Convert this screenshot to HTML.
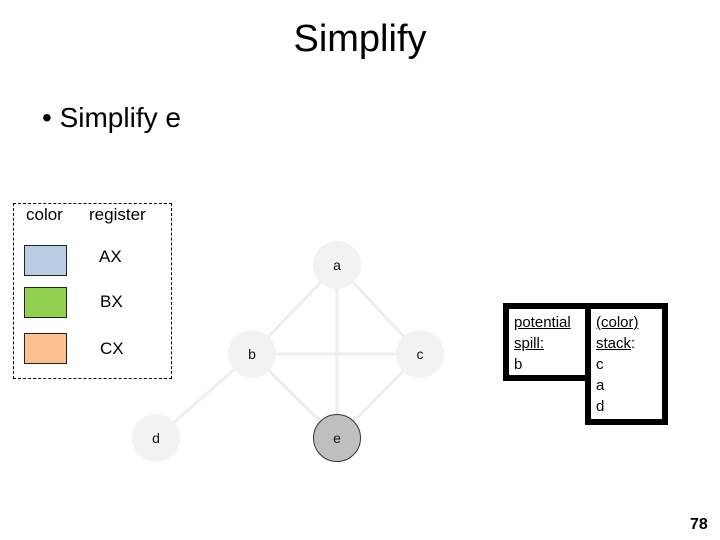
<!DOCTYPE html>
<html><head><style>
body{margin:0;width:720px;height:540px;background:#fff;position:relative;overflow:hidden;font-family:"Liberation Sans",sans-serif;}
.t{position:absolute;white-space:nowrap;}
.sw{position:absolute;left:24px;width:41px;height:29px;border:1px solid #222;}
.bx{position:absolute;border:6px solid #000;background:#fff;font-size:15px;line-height:21px;padding:3px 0 0 5px;box-sizing:border-box;}
</style></head><body>
<div class="t" style="left:0;width:720px;text-align:center;top:18px;font-size:38px;">Simplify</div>
<div class="t" style="left:42px;top:102px;font-size:28px;">• Simplify e</div>
<div style="position:absolute;left:13px;top:203px;width:157px;height:174px;border:1px dashed #000;"></div>
<div class="t" style="left:26px;top:205px;font-size:17px;">color</div>
<div class="t" style="left:89px;top:205px;font-size:17px;">register</div>
<div class="sw" style="top:245px;background:#b8cce4"></div>
<div class="sw" style="top:287px;background:#92d050"></div>
<div class="sw" style="top:333px;background:#fac090"></div>
<div class="t" style="left:99px;top:247px;font-size:17px;">AX</div>
<div class="t" style="left:100px;top:292px;font-size:17px;">BX</div>
<div class="t" style="left:100px;top:339px;font-size:17px;">CX</div>
<svg width="720" height="540" style="position:absolute;left:0;top:0">
<g stroke="#eeeeee" stroke-width="3">
<line x1="337" y1="265" x2="252" y2="354"/><line x1="337" y1="265" x2="420" y2="354"/>
<line x1="337" y1="265" x2="337" y2="438"/><line x1="252" y1="354" x2="420" y2="354"/>
<line x1="252" y1="354" x2="337" y2="438"/><line x1="420" y1="354" x2="337" y2="438"/>
<line x1="252" y1="354" x2="156" y2="438"/></g>
<g fill="#f2f2f2"><circle cx="337" cy="265" r="24"/><circle cx="252" cy="354" r="24"/><circle cx="420" cy="354" r="24"/><circle cx="156" cy="438" r="24"/></g>
<circle cx="337" cy="438" r="23.5" fill="#bfbfbf" stroke="#333" stroke-width="1"/>
<g font-family="Liberation Sans" font-size="14" text-anchor="middle" fill="#111">
<text x="337" y="270">a</text><text x="252" y="359">b</text><text x="420" y="359">c</text><text x="156" y="443">d</text><text x="337" y="443">e</text></g>
</svg>
<div class="bx" style="left:503px;top:303px;width:90px;height:78px;"><u>potential</u><br><u>spill:</u><br>b</div>
<div class="bx" style="left:585px;top:303px;width:83px;height:122px;"><u>(color)</u><br><u>stack</u>:<br>c<br>a<br>d</div>
<div class="t" style="left:690px;top:516px;font-size:16px;font-weight:bold;">78</div>
</body></html>
